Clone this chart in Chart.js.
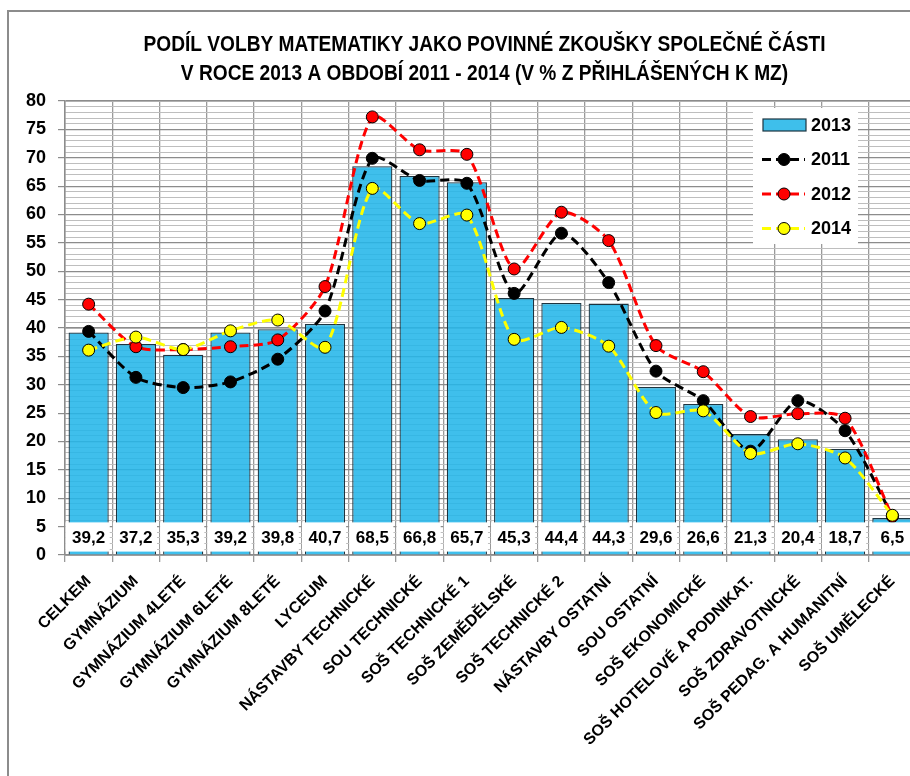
<!DOCTYPE html>
<html>
<head>
<meta charset="utf-8">
<script src="https://cdn.jsdelivr.net/npm/chart.js@4.4.1/dist/chart.umd.min.js"></script>
<style>
  html, body { margin: 0; padding: 0; background: #fff; overflow: hidden; }
  #frame { position: absolute; left: 7px; top: 10px; width: 1000px; height: 1000px; border: 2px solid #8c8c8c; }
  #chart { position: absolute; left: 0; top: 0; }
</style>
</head>
<body>
<div id="frame"></div>
<canvas id="chart" width="965" height="776"></canvas>
<script>
// data
const categories = [
  'CELKEM', 'GYMNÁZIUM', 'GYMNÁZIUM 4LETÉ', 'GYMNÁZIUM 6LETÉ', 'GYMNÁZIUM 8LETÉ', 'LYCEUM',
  'NÁSTAVBY TECHNICKÉ', 'SOU TECHNICKÉ', 'SOŠ TECHNICKÉ 1', 'SOŠ ZEMĚDĚLSKÉ', 'SOŠ TECHNICKÉ 2',
  'NÁSTAVBY OSTATNÍ', 'SOU OSTATNÍ', 'SOŠ EKONOMICKÉ', 'SOŠ HOTELOVÉ A PODNIKAT.', 'SOŠ ZDRAVOTNICKÉ',
  'SOŠ PEDAG. A HUMANITNÍ', 'SOŠ UMĚLECKÉ'
];
const values2013 = [39.2, 37.2, 35.3, 39.2, 39.8, 40.7, 68.5, 66.8, 65.7, 45.3, 44.4, 44.3, 29.6, 26.6, 21.3, 20.4, 18.7, 6.5];
const values2011 = [39.4, 31.3, 29.5, 30.5, 34.5, 43.0, 69.9, 66.0, 65.5, 46.1, 56.7, 48.0, 32.4, 27.2, 18.3, 27.2, 21.9, 6.9];
const values2012 = [44.2, 36.7, 36.2, 36.7, 37.9, 47.3, 77.2, 71.4, 70.6, 50.4, 60.4, 55.4, 36.9, 32.3, 24.4, 24.9, 24.1, 6.8];
const values2014 = [36.1, 38.4, 36.2, 39.5, 41.4, 36.6, 64.6, 58.4, 59.9, 38.0, 40.1, 36.8, 25.1, 25.4, 17.9, 19.6, 17.1, 7.0];
const yMin = 0, yMax = 80, yStep = 5, yMinorStep = 1;
const titleLines = [
  'PODÍL VOLBY MATEMATIKY JAKO POVINNÉ ZKOUŠKY SPOLEČNÉ ČÁSTI',
  'V ROCE 2013 A OBDOBÍ 2011 - 2014 (V % Z PŘIHLÁŠENÝCH K MZ)'
];

const SANS = "'Liberation Sans', Arial, sans-serif";

// title, squeezed a bit to look like the narrow original face
const narrowTitle = {
  id: 'narrowTitle',
  afterDraw(chart) {
    const ctx = chart.ctx;
    ctx.save();
    ctx.fillStyle = '#000';
    ctx.font = 'bold 22px ' + SANS;
    ctx.textAlign = 'center';
    ctx.textBaseline = 'middle';
    titleLines.forEach((t, i) => {
      ctx.save();
      ctx.translate(484.5, 45 + i * 29);
      ctx.scale(0.87, 1);
      ctx.fillText(t, 0, 0);
      ctx.restore();
    });
    ctx.restore();
  }
};

// white value boxes at the foot of each bar
const barLabels = {
  id: 'barLabels',
  afterDatasetsDraw(chart) {
    const ctx = chart.ctx;
    const y = chart.scales.y;
    const meta = chart.getDatasetMeta(0);
    const top = y.getPixelForValue(5.75), bottom = y.getPixelForValue(0.6);
    ctx.save();
    ctx.font = 'bold 17px ' + SANS;
    ctx.textAlign = 'center';
    ctx.textBaseline = 'middle';
    meta.data.forEach((bar, i) => {
      const w = bar.width + 4;
      ctx.fillStyle = '#fff';
      ctx.fillRect(bar.x - w / 2 - 1, top, w, bottom - top);
      ctx.fillStyle = '#000';
      ctx.fillText(values2013[i].toFixed(1).replace('.', ','), bar.x, (top + bottom) / 2 + 1);
    });
    ctx.restore();
  }
};

// legend box inside the plot, top right
const boxLegend = {
  id: 'boxLegend',
  afterDraw(chart) {
    const ctx = chart.ctx;
    const a = chart.chartArea;
    const x0 = a.right - 163, y0 = a.top + 7;
    ctx.save();
    ctx.fillStyle = '#fff';
    ctx.fillRect(x0, y0, 105, 136);
    [0, 1, 2, 3].forEach((di, k) => {
      const ds = chart.data.datasets[di];
      const cy = y0 + 17 + k * 34.5;
      if (ds.type === 'bar') {
        ctx.fillStyle = '#3ebfeb';
        ctx.fillRect(x0 + 10, cy - 6, 43, 12);
        ctx.strokeStyle = '#1d3440';
        ctx.lineWidth = 1.2;
        ctx.strokeRect(x0 + 10, cy - 6, 43, 12);
      } else {
        ctx.strokeStyle = ds.borderColor;
        ctx.lineWidth = 3;
        ctx.setLineDash([9, 5]);
        ctx.beginPath();
        ctx.moveTo(x0 + 9, cy);
        ctx.lineTo(x0 + 52, cy);
        ctx.stroke();
        ctx.setLineDash([]);
        ctx.beginPath();
        ctx.arc(x0 + 31, cy, 6, 0, Math.PI * 2);
        ctx.fillStyle = ds.pointBackgroundColor;
        ctx.fill();
        ctx.strokeStyle = '#000';
        ctx.lineWidth = 1;
        ctx.stroke();
      }
      ctx.fillStyle = '#000';
      ctx.font = 'bold 18px ' + SANS;
      ctx.textAlign = 'left';
      ctx.textBaseline = 'middle';
      ctx.fillText(ds.label, x0 + 58, cy + 1);
    });
    ctx.restore();
  }
};

const lineStyle = (color, data, label, order) => ({
  type: 'line',
  label: label,
  data: data,
  order: order,
  borderColor: color,
  borderWidth: 3,
  borderDash: [9, 5],
  tension: 0.25,
  pointRadius: 6,
  pointBackgroundColor: color,
  pointBorderColor: '#000',
  pointBorderWidth: 1,
  yAxisID: 'y'
});

new Chart(document.getElementById('chart'), {
  type: 'bar',
  data: {
    labels: categories,
    datasets: [
      {
        type: 'bar',
        label: '2013',
        data: values2013,
        order: 4,
        backgroundColor: 'rgba(36,182,233,0.88)',
        borderColor: '#1d3440',
        borderWidth: 1.3,
        barPercentage: 0.85,
        categoryPercentage: 1,
        yAxisID: 'y'
      },
      lineStyle('#000000', values2011, '2011', 3),
      lineStyle('#ff0000', values2012, '2012', 2),
      lineStyle('#ffff00', values2014, '2014', 1)
    ]
  },
  options: {
    responsive: false,
    animation: false,
    devicePixelRatio: 1,
    layout: { padding: { left: 8, right: 49, top: 101, bottom: 0 } },
    plugins: {
      legend: { display: false },
      tooltip: { enabled: false },
      title: { display: false }
    },
    scales: {
      x: {
        grid: { offset: true, color: '#9a9a9a', lineWidth: 1.3, tickLength: 7 },
        border: { color: '#8c8c8c', width: 1.5 },
        ticks: {
          autoSkip: false, maxRotation: 45, minRotation: 45, padding: 10,
          color: '#000', font: { family: SANS, weight: 'bold', size: 16 }
        },
        afterFit(scale) { scale.height = 221; }
      },
      yMinor: {
        position: 'left',
        min: yMin, max: yMax, z: -1,
        ticks: { display: false, stepSize: yMinorStep },
        grid: { color: '#bebebe', lineWidth: 1, drawTicks: false },
        border: { display: false },
        afterFit(scale) { scale.width = 0; }
      },
      y: {
        position: 'left',
        min: yMin, max: yMax,
        ticks: {
          stepSize: yStep, padding: 12, color: '#000',
          font: { family: SANS, weight: 'bold', size: 18 }
        },
        grid: { color: '#8c8c8c', lineWidth: 1.2, tickLength: 7 },
        border: { color: '#8c8c8c', width: 1.5 },
        afterFit(scale) { scale.width = 57; }
      }
    }
  },
  plugins: [narrowTitle, barLabels, boxLegend]
});
</script>
</body>
</html>
